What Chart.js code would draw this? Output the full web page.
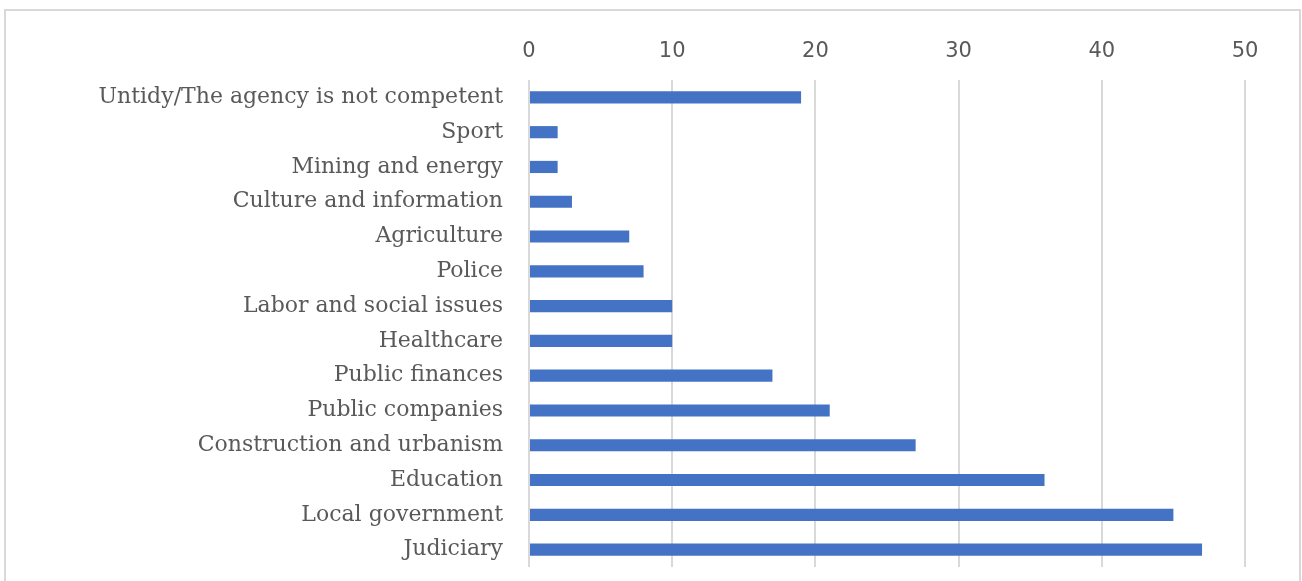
<!DOCTYPE html>
<html>
<head>
<meta charset="utf-8">
<script src="https://cdn.jsdelivr.net/npm/chart.js@4/dist/chart.umd.min.js"></script>
<style>
  html, body { margin: 0; padding: 0; background: #fff; }
  #wrap { width: 1302px; height: 581px; position: relative; }
</style>
</head>
<body>
<div id="wrap"><canvas id="chart"></canvas></div>
<script>
// categories, top to bottom as in the picture
const categories = [
  'Untidy/The agency is not competent',
  'Sport',
  'Mining and energy',
  'Culture and information',
  'Agriculture',
  'Police',
  'Labor and social issues',
  'Healthcare',
  'Public finances',
  'Public companies',
  'Construction and urbanism',
  'Education',
  'Local government',
  'Judiciary',
];

const counts = [19, 2, 2, 3, 7, 8, 10, 10, 17, 21, 27, 36, 45, 47];

const xTicks = [0, 10, 20, 30, 40, 50];

const barColor = '#4472c4';
const gridColor = '#d9d9d9';
const textColor = '#595959';

// light frame around the chart area (open at the bottom, like the crop)
const framePlugin = {
  id: 'frame',
  beforeDraw(chart) {
    const { ctx } = chart;
    ctx.save();
    ctx.strokeStyle = gridColor;
    ctx.lineWidth = 2;
    ctx.strokeRect(5, 10, 1295, 600);
    ctx.restore();
  },
};

// Chart.js otherwise reserves room for half a label at the ends
function noPad(scale) {
  scale.paddingTop = 0;
  scale.paddingBottom = 0;
  scale.paddingLeft = 0;
  scale.paddingRight = 0;
}

new Chart(document.getElementById('chart'), {
  type: 'bar',
  data: {
    labels: categories,
    datasets: [
      {
        data: counts,
        backgroundColor: barColor,
        borderWidth: 0,
        categoryPercentage: 0.35,
        barPercentage: 1,
      },
    ],
  },
  options: {
    indexAxis: 'y',
    responsive: true,
    maintainAspectRatio: false,
    animation: false,
    layout: {
      padding: { top: 0, right: 57, bottom: 14, left: 0 },
    },
    plugins: {
      legend: { display: false },
      tooltip: { enabled: false },
    },
    scales: {
      x: {
        position: 'top',
        min: 0,
        max: 50,
        afterFit: (scale) => { scale.height = 80; noPad(scale); },
        afterBuildTicks: (scale) => {
          scale.ticks = xTicks.map((v) => ({ value: v }));
        },
        grid: {
          color: gridColor,
          lineWidth: 2,
          drawTicks: false,
        },
        border: { display: false },
        ticks: {
          padding: 16,
          color: textColor,
          font: { family: 'DejaVu Sans', size: 21 },
        },
      },
      y: {
        afterFit: (scale) => { scale.width = 529; noPad(scale); },
        grid: { display: false, drawTicks: false },
        border: { display: false },
        ticks: {
          padding: 26,
          color: textColor,
          font: { family: 'DejaVu Serif', size: 22 },
        },
      },
    },
  },
  plugins: [framePlugin],
});
</script>
</body>
</html>
